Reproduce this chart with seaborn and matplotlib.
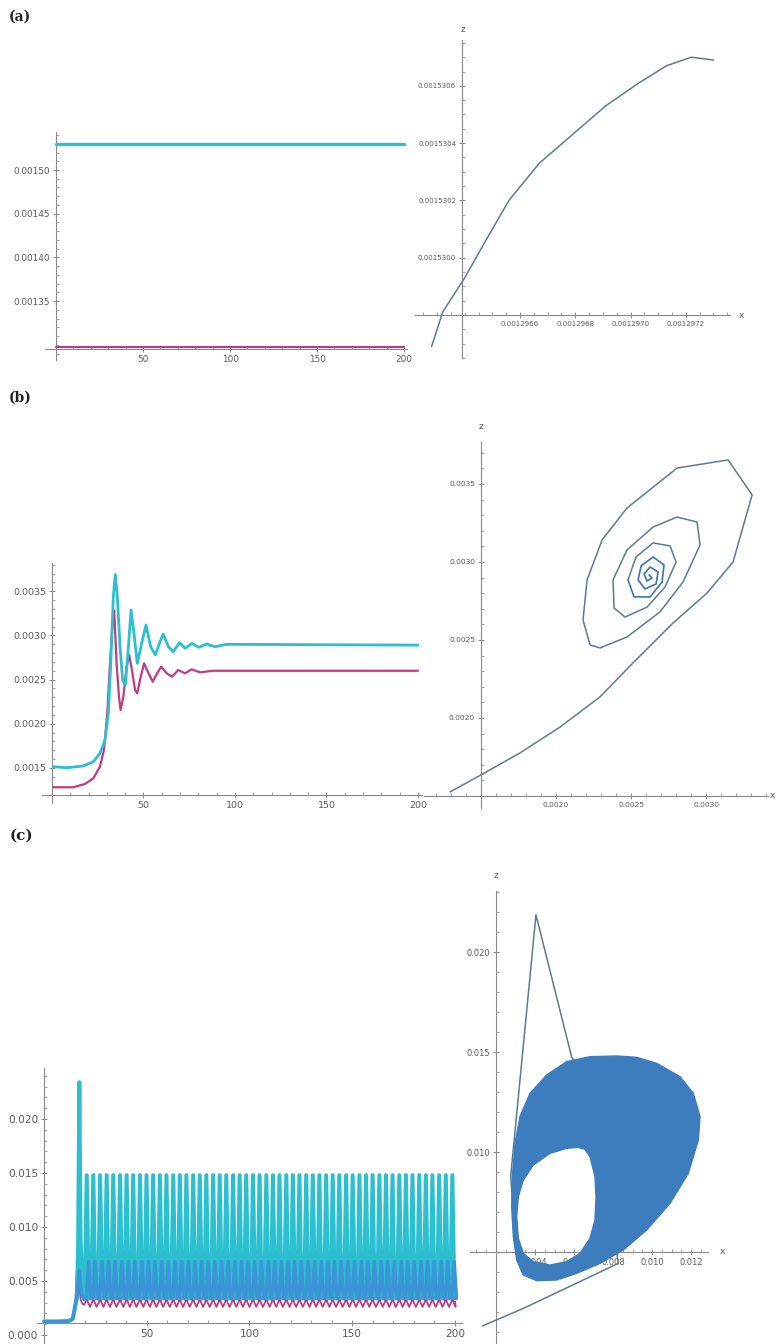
import matplotlib
matplotlib.use("Agg")
import matplotlib.pyplot as plt
from matplotlib.path import Path
from matplotlib.patches import PathPatch
from matplotlib.ticker import FixedLocator, MultipleLocator, FormatStrFormatter
import seaborn as sns

sns.set_style("white")
plt.rcParams["font.family"] = ["DejaVu Sans"]

W, H = 777, 1344

CYAN = "#2cbfcf"
MAGENTA = "#c03b82"
BLUE = "#3a96d6"
SLATE = "#587e8d"
DEEP = "#3f72b2"
FILL = "#3d7cbd"
AXIS = "#8a8a8a"
TEXT = "#5a5a5a"

# ---------------- (a) steady state ----------------
a_t = [0.0, 200.0]
a_z = [0.001530, 0.001530]
a_x = [0.001297, 0.001297]

a_phase_x = [0.00129628, 0.00129632, 0.00129640, 0.00129647, 0.00129656, 0.00129667,
             0.00129679, 0.00129691, 0.00129703, 0.00129713, 0.00129722, 0.00129730]
a_phase_z = [0.00152969, 0.00152981, 0.00152993, 0.00153005, 0.00153020, 0.00153033,
             0.00153043, 0.00153053, 0.00153061, 0.00153067, 0.00153070, 0.00153069]

# ---------------- (b) damped oscillation ----------------
b_t_z = [0.7, 8.0, 17.1, 22.6, 26.2, 29.0, 30.8, 32.1, 33.5, 34.6, 35.7, 37.2, 38.6, 40.1,
         41.5, 43.2, 44.8, 46.6, 49.0, 51.4, 53.9, 56.5, 59.0, 60.8, 63.6, 66.3, 69.6,
         72.8, 76.5, 80.2, 84.5, 89.1, 95.5, 200.0]
b_z = [0.001515, 0.001503, 0.001523, 0.001571, 0.001666, 0.001817, 0.002119, 0.002684,
       0.003437, 0.003690, 0.003437, 0.002872, 0.002495, 0.002439, 0.002797, 0.003287,
       0.003023, 0.002684, 0.002910, 0.003117, 0.002872, 0.002778, 0.002928, 0.003015,
       0.002872, 0.002815, 0.002917, 0.002854, 0.002910, 0.002865, 0.002903, 0.002872,
       0.002899, 0.002890]

b_t_x = [0.7, 11.6, 18.0, 22.6, 26.2, 28.4, 30.2, 31.7, 33.2, 34.0, 35.3, 36.6, 37.5, 39.0,
         40.8, 42.2, 43.7, 45.4, 46.6, 48.1, 50.3, 52.8, 55.0, 57.5, 59.7, 62.7, 65.6,
         69.0, 72.7, 76.3, 80.9, 88.1, 200.0]
b_x = [0.001282, 0.001282, 0.001319, 0.001383, 0.001515, 0.001704, 0.002119, 0.002684,
       0.003174, 0.003280, 0.002684, 0.002306, 0.002156, 0.002306, 0.002646, 0.002778,
       0.002608, 0.002382, 0.002345, 0.002495, 0.002684, 0.002571, 0.002476, 0.002571,
       0.002646, 0.002571, 0.002533, 0.002608, 0.002571, 0.002616, 0.002582, 0.002600,
       0.002600]

b_phase_x = [0.001293, 0.001500, 0.001760, 0.002027, 0.002293, 0.002513, 0.002780, 0.003007,
             0.003180, 0.003307, 0.003147, 0.002807, 0.002473, 0.002307, 0.002207, 0.002180,
             0.002227, 0.002293, 0.002473, 0.002693, 0.002847, 0.002960, 0.002940, 0.002807,
             0.002647, 0.002473, 0.002380, 0.002387, 0.002460, 0.002607, 0.002727, 0.002800,
             0.002760, 0.002647, 0.002533, 0.002480, 0.002520, 0.002627, 0.002707, 0.002720,
             0.002647, 0.002567, 0.002547, 0.002593, 0.002667, 0.002680, 0.002627, 0.002587,
             0.002607, 0.002640, 0.002620]
b_phase_z = [0.001526, 0.001635, 0.001776, 0.001942, 0.002135, 0.002353, 0.002609, 0.002801,
             0.003000, 0.003430, 0.003654, 0.003602, 0.003346, 0.003141, 0.002885, 0.002628,
             0.002468, 0.002449, 0.002519, 0.002680, 0.002872, 0.003109, 0.003256, 0.003288,
             0.003224, 0.003077, 0.002885, 0.002705, 0.002647, 0.002711, 0.002840, 0.003000,
             0.003103, 0.003122, 0.003032, 0.002885, 0.002776, 0.002776, 0.002872, 0.002981,
             0.003032, 0.002974, 0.002885, 0.002827, 0.002859, 0.002936, 0.002968, 0.002923,
             0.002878, 0.002897, 0.002917]

# ---------------- (c) sustained spiking ----------------
c_t_start = [0.0, 6.0, 12.0, 14.0, 15.2, 16.0, 16.6, 17.2, 17.8, 18.6, 19.6]
c_z_start = [0.00125, 0.00125, 0.00128, 0.00150, 0.00260, 0.00350, 0.00800, 0.02340,
             0.00900, 0.00400, 0.00330]
c_x_start = [0.00125, 0.00125, 0.00128, 0.00160, 0.00300, 0.00600, 0.00830, 0.00450,
             0.00330, 0.00290, 0.00280]
c_y_start = [0.00125, 0.00125, 0.00128, 0.00150, 0.00280, 0.00340, 0.00500, 0.00600,
             0.00450, 0.00360, 0.00330]

c_spike_times = [20.8, 24.0, 27.3, 30.5, 33.7, 37.0, 40.2, 43.4, 46.7, 49.9,
                 53.1, 56.4, 59.6, 62.9, 66.1, 69.3, 72.6, 75.8, 79.0, 82.3,
                 85.5, 88.7, 92.0, 95.2, 98.4, 101.7, 104.9, 108.2, 111.4, 114.6,
                 117.9, 121.1, 124.3, 127.6, 130.8, 134.0, 137.3, 140.5, 143.7, 147.0,
                 150.2, 153.5, 156.7, 159.9, 163.2, 166.4, 169.6, 172.9, 176.1, 179.3,
                 182.6, 185.8, 189.0, 192.3, 195.5, 198.7]
c_z_peak, c_z_base = 0.0148, 0.0034
c_x_peak, c_x_base, c_x_low = 0.0125, 0.0031, 0.0026
c_y_peak, c_y_base = 0.0068, 0.0034

c_tr_x = [0.0013, 0.0034, 0.00827, 0.00815, 0.0063, 0.0045, 0.0032, 0.00295, 0.00275,
          0.00405, 0.00588, 0.0068]
c_tr_z = [0.0013, 0.00218, 0.00443, 0.00527, 0.0042, 0.0038, 0.0045, 0.0065, 0.00876,
          0.02186, 0.01475, 0.0132]

c_orbit_outer_x = [0.008189, 0.006820, 0.005624, 0.004600, 0.003744, 0.003231, 0.002974,
                   0.002838, 0.002803, 0.002889, 0.003060, 0.003400, 0.004086, 0.005111,
                   0.006137, 0.007333, 0.008530, 0.009726, 0.010923, 0.011863, 0.012376,
                   0.012461, 0.012119, 0.011436, 0.010239, 0.009213]
c_orbit_outer_z = [0.014800, 0.014767, 0.014517, 0.013850, 0.012933, 0.011767, 0.010433,
                   0.008767, 0.007267, 0.005767, 0.004600, 0.003850, 0.003567, 0.003600,
                   0.003933, 0.004433, 0.005100, 0.006100, 0.007433, 0.008933, 0.010600,
                   0.011767, 0.012933, 0.013767, 0.014433, 0.014733]
c_orbit_hole_x = [0.006222, 0.005624, 0.004769, 0.003914, 0.003400, 0.003145, 0.003060,
                  0.003145, 0.003400, 0.003914, 0.004769, 0.005624, 0.006308, 0.006820,
                  0.007077, 0.007128, 0.007077, 0.006820, 0.006564]
c_orbit_hole_z = [0.010233, 0.010183, 0.009933, 0.009350, 0.008600, 0.007767, 0.006767,
                  0.005683, 0.004933, 0.004517, 0.004350, 0.004517, 0.004933, 0.005683,
                  0.006600, 0.007767, 0.008767, 0.009767, 0.010133]

fig = plt.figure(figsize=(W / 100, H / 100), dpi=100)
fig.patch.set_facecolor("white")


def new_axes(box):
    l, t, r, b = box
    ax = fig.add_axes([l / W, 1 - b / H, (r - l) / W, (b - t) / H])
    ax.patch.set_alpha(0)
    return ax


def style_axes(ax, xlim, ylim, origin, xmajor, ymajor, xminor, yminor, xfmt, yfmt, fs):
    ax.set_xlim(*xlim)
    ax.set_ylim(*ylim)
    ax.set_xlabel("")
    ax.set_ylabel("")
    for s in ("top", "right"):
        ax.spines[s].set_visible(False)
    ax.spines["left"].set_position(("data", origin[0]))
    ax.spines["bottom"].set_position(("data", origin[1]))
    for s in ("left", "bottom"):
        ax.spines[s].set_color(AXIS)
        ax.spines[s].set_linewidth(0.8)
    ax.xaxis.set_major_locator(FixedLocator(xmajor))
    ax.yaxis.set_major_locator(FixedLocator(ymajor))
    ax.xaxis.set_minor_locator(MultipleLocator(xminor))
    ax.yaxis.set_minor_locator(MultipleLocator(yminor))
    ax.xaxis.set_major_formatter(FormatStrFormatter(xfmt))
    ax.yaxis.set_major_formatter(FormatStrFormatter(yfmt))
    ax.tick_params(which="both", bottom=True, left=True, top=False, right=False)
    ax.tick_params(which="major", direction="inout", length=4.5, width=0.7,
                   color=AXIS, labelsize=fs, labelcolor=TEXT, pad=2)
    ax.tick_params(which="minor", direction="in", length=2.4, width=0.55, color=AXIS)


def line(ax, x, y, color, lw, z=3):
    sns.lineplot(x=x, y=y, ax=ax, color=color, linewidth=lw, estimator=None,
                 sort=False, legend=False, zorder=z)


def spikes(t0, v0, times, base, peak, lead=0.0, half=0.6, low=None):
    t, v = list(t0), list(v0)
    for s in times:
        c = s + lead
        t += [c - half, c, c + half]
        v += [base, peak, base]
        if low is not None:
            t.append(c + 1.6)
            v.append(low)
    t.append(200.0)
    v.append(base)
    return t, v


def ftext(x, y, s, **kw):
    fig.text(x / W, 1 - y / H, s, **kw)


# ---- (a) left: time series ----
ax = new_axes((45, 132, 407, 360))
line(ax, a_t, a_x, MAGENTA, 1.5)
line(ax, a_t, a_z, CYAN, 2.4)
style_axes(ax, (-6.32, 201.7), (0.0012826, 0.0015435), (0.0, 0.0012952),
           [50, 100, 150, 200], [0.00135, 0.00140, 0.00145, 0.00150], 10, 0.00001,
           "%d", "%.5f", 6.4)

# ---- (a) right: phase curve ----
ax = new_axes((415, 40, 730, 358))
line(ax, a_phase_x, a_phase_z, SLATE, 1.1)
style_axes(ax, (0.00129622, 0.00129736), (0.00152965, 0.00153076), (0.00129639, 0.00152980),
           [0.0012966, 0.0012968, 0.0012970, 0.0012972],
           [0.0015300, 0.0015302, 0.0015304, 0.0015306], 0.00000005, 0.00000005,
           "%.7f", "%.7f", 5.0)
ftext(463, 29, "z", fontsize=6.5, color=TEXT, ha="center", va="center")
ftext(741, 315, "x", fontsize=6.5, color=TEXT, ha="center", va="center")

# ---- (b) left: time series ----
ax = new_axes((42, 563, 422, 803))
line(ax, b_t_x, b_x, MAGENTA, 1.6)
line(ax, b_t_z, b_z, CYAN, 2.0)
style_axes(ax, (-5.46, 202.2), (0.001104, 0.003819), (0.0, 0.001195),
           [50, 100, 150, 200], [0.0015, 0.0020, 0.0025, 0.0030, 0.0035], 10, 0.0001,
           "%d", "%.4f", 6.8)

# ---- (b) right: spiral ----
ax = new_axes((424, 442, 768, 808))
line(ax, b_phase_x[:36], b_phase_z[:36], SLATE, 1.1)
line(ax, b_phase_x[35:], b_phase_z[35:], DEEP, 1.2)
style_axes(ax, (0.00112, 0.003413), (0.001423, 0.003769), (0.0015, 0.0015),
           [0.0020, 0.0025, 0.0030], [0.0020, 0.0025, 0.0030, 0.0035], 0.0001, 0.0001,
           "%.4f", "%.4f", 5.4)
ftext(481, 427, "z", fontsize=6.5, color=TEXT, ha="center", va="center")
ftext(770, 796, "x", fontsize=6.5, color=TEXT, ha="left", va="center")

# ---- (c) left: spike train ----
ax = new_axes((37, 1068, 462, 1344))
tx, vx = spikes(c_t_start, c_x_start, c_spike_times, c_x_base, c_x_peak,
                lead=0.0, half=0.45, low=c_x_low)
tz, vz = spikes(c_t_start, c_z_start, c_spike_times, c_z_base, c_z_peak, half=1.0)
ty, vy = spikes(c_t_start, c_y_start, c_spike_times, c_y_base, c_y_peak,
                lead=0.9, half=1.1)
line(ax, tx, vx, MAGENTA, 1.3, z=3)
line(ax, tz, vz, CYAN, 2.9, z=3.1)
line(ax, ty, vy, BLUE, 2.5, z=3.2)
style_axes(ax, (-3.4, 203.4), (-0.000833, 0.02472), (0.0, 0.001111),
           [50, 100, 150, 200], [0.000, 0.005, 0.010, 0.015, 0.020], 10, 0.001,
           "%d", "%.3f", 7.6)

# ---- (c) right: attractor ----
ax = new_axes((470, 891, 708, 1344))
line(ax, c_tr_x, c_tr_z, SLATE, 1.1, z=3)
verts = list(zip(c_orbit_outer_x, c_orbit_outer_z)) + [(c_orbit_outer_x[0], c_orbit_outer_z[0])]
hole = list(zip(c_orbit_hole_x[::-1], c_orbit_hole_z[::-1]))
verts += hole + [hole[0]]
codes = ([Path.MOVETO] + [Path.LINETO] * (len(c_orbit_outer_x) - 1) + [Path.CLOSEPOLY]
         + [Path.MOVETO] + [Path.LINETO] * (len(hole) - 1) + [Path.CLOSEPOLY])
ax.add_patch(PathPatch(Path(verts, codes), facecolor=FILL, edgecolor=FILL,
                       linewidth=1.0, zorder=4))
style_axes(ax, (0.000667, 0.012871), (0.0004, 0.02305), (0.002, 0.005),
           [0.004, 0.006, 0.008, 0.010, 0.012], [0.010, 0.015, 0.020], 0.0005, 0.001,
           "%.3f", "%.3f", 6.0)
ftext(496, 876, "z", fontsize=6.5, color=TEXT, ha="center", va="center")
ftext(722, 1252, "x", fontsize=6.5, color=TEXT, ha="center", va="center")

# ---- panel letters ----
for lab, (px, py, fs) in {"(a)": (9, 17, 10), "(b)": (9, 398, 10), "(c)": (10, 836, 11)}.items():
    ftext(px, py, lab, fontsize=fs, fontweight="bold", family="DejaVu Serif",
          color="#222222", ha="left", va="center")

fig.savefig("out.png", dpi=100, facecolor="white")
